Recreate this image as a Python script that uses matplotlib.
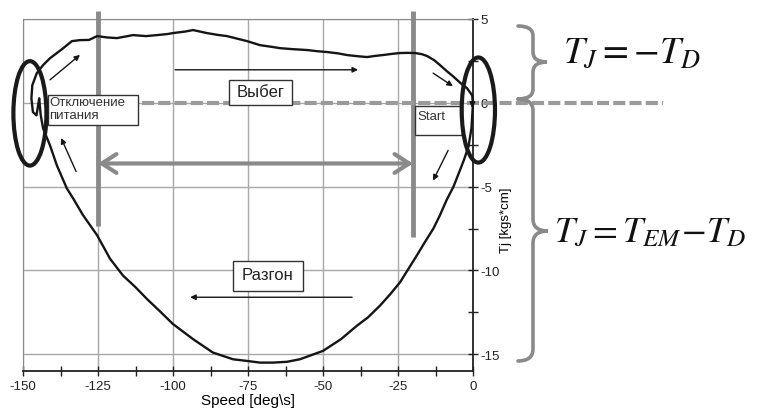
import matplotlib.pyplot as plt
from matplotlib.patches import Ellipse, Rectangle, PathPatch
from matplotlib.path import Path
from matplotlib.ticker import MultipleLocator

plt.rcParams['font.family'] = ['Liberation Sans', 'DejaVu Sans']
plt.rcParams['mathtext.fontset'] = 'stix'
plt.rcParams['axes.unicode_minus'] = False

# speed / torque trajectory: acceleration (lower branch), power-off loop, coast (upper branch)
speed = [0, -0.5, -1.5, -3.0, -4.3, -6.5, -8.8, -11, -13.2, -16, -18.7, -21.5,
         -24.3, -27.5, -31, -35, -38.7, -44, -50, -57.7, -62, -66.7, -71, -75.3,
         -80, -86.7, -93.3, -100, -104, -108.7, -112.5, -116.7, -121, -125.3,
         -130, -133.3, -135.4, -138.7, -141, -143.3, -144.1, -144.6, -145.0,
         -145.5, -146.7, -147.2, -146.9, -145.4, -143.3, -141, -137, -133.7,
         -131, -128, -125.3, -122, -118.7, -116, -113.3, -109, -105.3, -102,
         -100, -96, -93.3, -91, -88.7, -85, -82, -78, -75.3, -71, -67.5, -64.3,
         -60, -55.4, -52, -48.7, -45, -42, -38.5, -35.3, -32.5, -30, -27, -24.3,
         -22, -19.3, -17, -15.3, -13, -11, -8.8, -6.7, -4.3, -2, -0.3, 0]
torque = [0, -1.5, -2.6, -3.4, -4.0, -5.0, -5.8, -6.7, -7.5, -8.3, -9.1, -9.9,
          -10.7, -11.4, -12.1, -12.8, -13.3, -14.1, -14.8, -15.3, -15.45, -15.5,
          -15.5, -15.4, -15.3, -14.9, -14.1, -13.2, -12.5, -11.7, -11.0, -10.3,
          -9.3, -7.9, -6.7, -5.7, -5.1, -3.74, -2.54, -1.53, -0.73, 0.27, -0.2,
          -0.75, -0.55, 0.27, 1.05, 1.77, 2.25, 2.66, 3.2, 3.68,
          3.74, 3.75, 3.98, 3.9, 3.86, 3.95, 4.04, 3.98, 4.04, 4.1,
          4.16, 4.25, 4.34, 4.25, 4.16, 4.05, 3.98, 3.8, 3.68, 3.44, 3.35, 3.26,
          3.2, 3.15, 3.08, 3.03, 2.95, 2.85, 2.78, 2.73, 2.8, 2.85, 2.92, 2.97,
          2.98, 2.97, 2.9, 2.79, 2.55, 2.25, 1.9, 1.59, 1.2, 0.87, 0.45, 0.05]

x_ticks = [-150, -125, -100, -75, -50, -25, 0]
y_ticks = [5, 0, -5, -10, -15]

# direction arrows along the trajectory: (start, end)
arrow_tails = [(-141, 1.37), (-132.3, -4.1), (-99.3, 1.97), (-13.3, 1.77), (-8.3, -2.84), (-40.3, -11.6)]
arrow_heads = [(-131, 2.86), (-137.3, -2.1), (-38.3, 1.97), (-6.7, 0.99), (-13.3, -4.64), (-94.3, -11.6)]

# labelled boxes: text, (x0, y0, x1, y1) in data units
box_texts = ['Отключение\nпитания', 'Выбег', 'Start', 'Разгон']
box_extents = [(-141.7, -1.35, -111.7, 0.45), (-81.3, -0.15, -60.3, 1.35),
               (-19.3, -1.95, -3.7, -0.2), (-80, -11.2, -56.7, -9.43)]

marker_speeds = [-125, -20]
marker_bottoms = [-7.37, -8.0]

fig = plt.figure(figsize=(7.64, 4.14), dpi=100)
ax = fig.add_axes([23 / 764, 1 - 372 / 414, 450 / 764, 352 / 414])
ax.set_xlim(-150, 0)
ax.set_ylim(-16, 5)

ax.grid(True, color='#a8a8a8', lw=1)
ax.set_axisbelow(True)
ax.set_xticks(x_ticks)
ax.set_yticks(y_ticks)
ax.xaxis.set_minor_locator(MultipleLocator(12.5))
ax.yaxis.set_minor_locator(MultipleLocator(2.5))
ax.yaxis.tick_right()
ax.yaxis.set_label_position('right')
ax.tick_params(which='both', direction='inout', length=7, width=1, colors='#222', labelsize=9.5)
ax.tick_params(axis='x', pad=3)
ax.tick_params(axis='y', pad=2)
for side in ['left', 'top']:
    ax.spines[side].set_color('#888')
for side in ['bottom', 'right']:
    ax.spines[side].set_color('#222')
    ax.spines[side].set_linewidth(1.3)

ax.set_xlabel('Speed [deg\\s]', fontsize=11, labelpad=1)
ax.set_ylabel('Tj [kgs*cm]', fontsize=9.5)
ax.yaxis.set_label_coords(1.06, 0.43)

# zero torque dashed line, runs out past the axes to the right
ax.plot([-110.3, 63.3], [0, 0], color='#9a9a9a', lw=3, dashes=[2.9, 1.0], clip_on=False, zorder=3)

# thick grey markers and the range arrow between them
for xs, yb in zip(marker_speeds, marker_bottoms):
    ax.plot([xs, xs], [5.5, yb], color='#8a8a8a', lw=3.5, clip_on=False, zorder=2, solid_capstyle='butt')
ax.annotate('', xy=(marker_speeds[0], -3.62), xytext=(marker_speeds[1], -3.62),
            arrowprops=dict(arrowstyle='<->, head_length=0.7, head_width=0.45', color='#8a8a8a',
                            lw=3, mutation_scale=15, shrinkA=0, shrinkB=0), zorder=2)

ax.plot(speed, torque, color='#151515', lw=1.7, clip_on=False, zorder=4)
ax.annotate('', xy=(-0.3, -0.3), xytext=(-0.1, 0.4),
            arrowprops=dict(arrowstyle='-|>', color='#151515', lw=1, mutation_scale=8,
                            shrinkA=0, shrinkB=0), zorder=5, annotation_clip=False)

for tail, head in zip(arrow_tails, arrow_heads):
    ax.annotate('', xy=head, xytext=tail,
                arrowprops=dict(arrowstyle='-|>', color='#151515', lw=1, mutation_scale=8,
                                shrinkA=0, shrinkB=0), zorder=5)

for text, (x0, y0, x1, y1) in zip(box_texts, box_extents):
    ax.add_patch(Rectangle((x0, y0), x1 - x0, y1 - y0, fill=True, facecolor='white',
                           edgecolor='#333', lw=1, zorder=3.5))
    if '\n' in text:
        ax.text(x0 + 0.4, y1 - 0.02, text, fontsize=9.5, va='top', ha='left',
                color='#333', linespacing=1.1, zorder=4.5)
    elif text == 'Start':
        ax.text(x0 + 0.8, (y0 + y1) / 2 + 0.3, text, fontsize=9.5, va='center', ha='left',
                color='#333', zorder=4.5)
    else:
        ax.text((x0 + x1) / 2, (y0 + y1) / 2 + 0.1, text, fontsize=12, va='center', ha='center',
                color='#222', zorder=4.5)

# ellipses around the start and power-off points
ax.add_patch(Ellipse((-147.7, -0.63), 11.0, 6.23, fill=False, edgecolor='#1a1a1a', lw=3,
                     zorder=6, clip_on=False))
ax.add_patch(Ellipse((1.78, -0.43), 11.1, 6.27, fill=False, edgecolor='#1a1a1a', lw=3,
                     zorder=6, clip_on=False))

# overlay in pixel units for the braces and equations
ov = fig.add_axes([0, 0, 1, 1])
ov.set_xlim(0, 764)
ov.set_ylim(414, 0)
ov.axis('off')
ov.patch.set_alpha(0)


def brace(x_end, x_spine, x_tip, y_top, y_bot, y_tip, r=12):
    verts = [(x_end, y_top), (x_spine, y_top), (x_spine, y_top + r),
             (x_spine, y_tip - r), (x_spine, y_tip), (x_tip, y_tip),
             (x_spine, y_tip), (x_spine, y_tip + r),
             (x_spine, y_bot - r), (x_spine, y_bot), (x_end, y_bot)]
    codes = [Path.MOVETO, Path.CURVE3, Path.CURVE3, Path.LINETO, Path.CURVE3, Path.CURVE3,
             Path.CURVE3, Path.CURVE3, Path.LINETO, Path.CURVE3, Path.CURVE3]
    ov.add_patch(PathPatch(Path(verts, codes), fill=False, edgecolor='#8a8a8a', lw=2.6,
                           capstyle='round'))


brace(518, 533, 547, 27, 100, 63, r=10)
brace(518, 533, 548, 100, 362, 232, r=12)

ov.text(563, 63, r'$T_J=-T_D$', fontsize=27, va='baseline', ha='left', color='#111')
ov.text(554, 242, r'$T_J = T_{EM}\!-\!T_D$', fontsize=26, va='baseline', ha='left', color='#111')

fig.savefig('out.png', dpi=100)
